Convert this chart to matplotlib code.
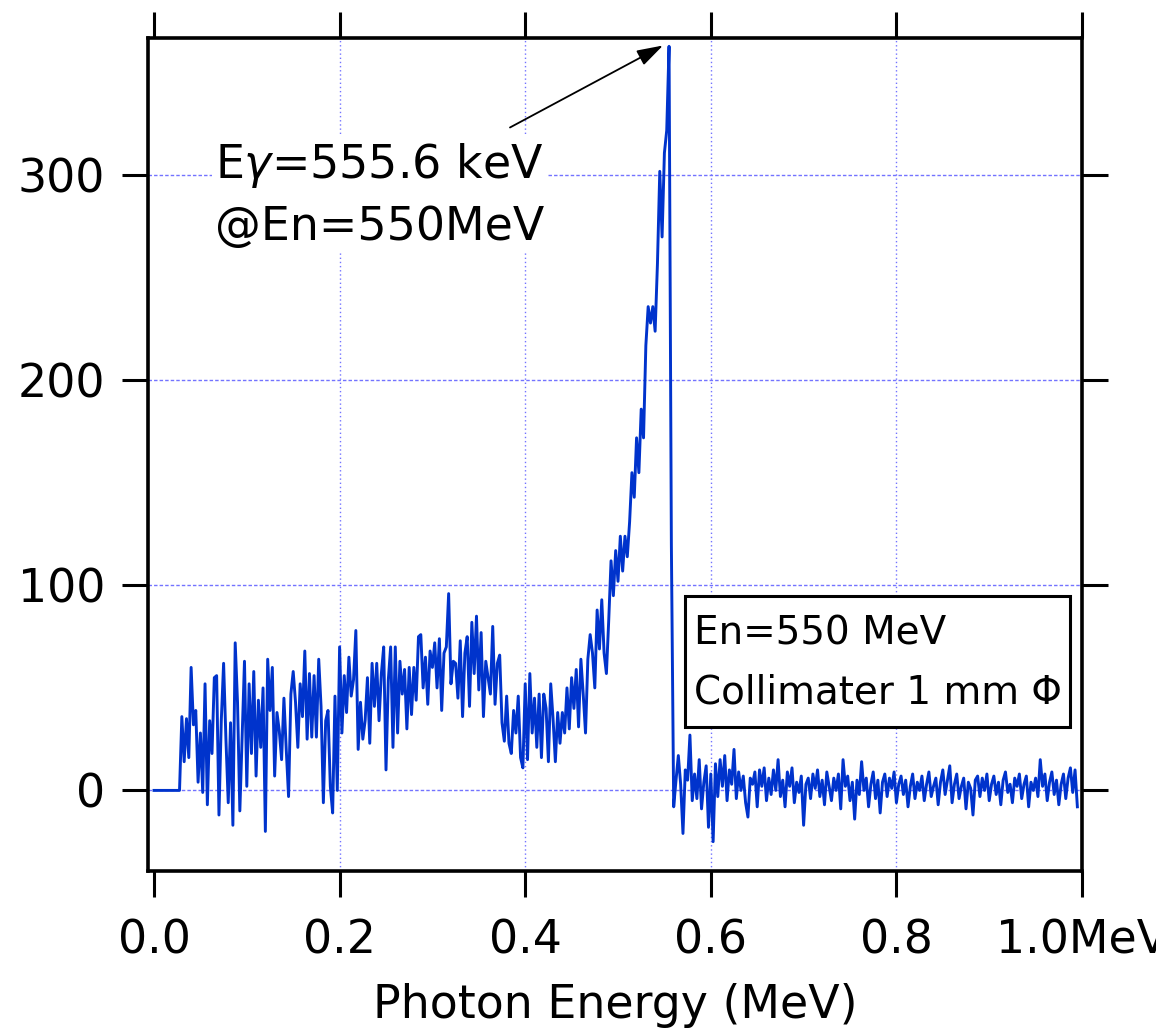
import numpy as np
import matplotlib
matplotlib.use("Agg")
import matplotlib.pyplot as plt
from matplotlib.patches import Rectangle


# spectrum, one value per 2.5 keV channel starting at 0 MeV
energy_step = 0.0025
counts = [
    0, 0, 0, 0, 0, 0, 0, 0, 0, 0, 0, 0,
    36, 14, 35, 16, 60, 32, 39, 4, 28, -1, 52, -7,
    34, 18, 55, 56, -12, 34, 62, 25, -6, 33, -17, 72,
    43, -10, 26, 63, 2, 52, 18, 58, 7, 44, 21, 50,
    -20, 64, 39, 60, 7, 38, 29, 15, 45, 20, -3, 47,
    58, 43, 21, 52, 36, 68, 25, 57, 26, 56, 26, 64,
    41, -6, 34, 39, 2, -11, 46, 0, 70,
    28, 56, 38, 65, 46, 54, 78, 20, 43, 25, 34, 55,
    23, 62, 41, 62, 34, 57, 70, 10, 54, 70, 21, 70,
    28, 63, 47, 59, 30, 60, 37, 60, 44, 75, 76, 50,
    65, 42, 68, 60, 72, 50, 74, 39, 67, 70, 96, 52,
    63, 62, 45, 73, 36, 67, 75, 41, 82, 57, 85, 49,
    77, 36, 63, 55, 47, 80, 42, 62, 66, 33, 24, 46,
    23, 18, 39, 28, 46, 16, 11, 52, 15, 57, 28,
    45, 21, 47, 16, 47, 40, 14, 52, 35, 14, 38, 23,
    38, 28, 50, 30, 55, 40, 59, 31, 64, 47, 28, 64,
    76, 67, 50, 88, 69, 93, 67, 57, 83, 112, 95, 117,
    102, 124, 107, 124, 114, 131, 155, 143, 172, 155, 186, 172,
    217, 236, 228, 236, 224, 257, 302, 270, 311, 322, 363, 120,
    -8, 5, 17, 3, -21, 10, 5, 27, -5, 8, -4, 15,
    -9, 4, 12, -18, 8, -25, 13, -3, 15, 2, 17, -5,
    10, 3, 20, -4, 9, 0, 7, -6, -13, 6, 3, 9,
    -8, 10, 2, 11, -5, 6, -2, 10, 0, 15, -3, 5,
    -8, 9, 2, 11, -6, 4, -1, 7, -17, 3, 6, -4,
    8, 1, 10, -3, 5, -7, 9, 2, -5, 6, 0, 8,
    -9, 15, 2, 7, -5, 4, -14, 5, -2, 14, 0, 6,
    -8, 3, 9, -4, 5, -11, 4, 8, -3, 6, 1, 9,
    -6, 3, 7, -2, 5, -8, 2, 8, -4, 4, 0, 7,
    -5, 3, 9, -3, 2, 6, -7, 4, 10, -2, 5, 12,
    -6, 3, 8, -4, 2, 6, -9, 4, 1, -12, 5, 7,
    -3, 6, 0, 8, -5, 3, 7, -2, 4, -7, 5, 9,
    -1, 3, -6, 6, 2, 8, -4, 3, 7, -8, 4, 0,
    6, -3, 15, 2, 8, -5, 4, 9, -2, 5, -7, 3,
    8, -4, 6, 11, -1, 10, -8,
]

x_ticks = [0.0, 0.2, 0.4, 0.6, 0.8, 1.0]
x_tick_labels = ["0.0", "0.2", "0.4", "0.6", "0.8", "1.0MeV"]
y_ticks = [0, 100, 200, 300]

peak_text = "E$\\gamma$=555.6 keV\n@En=550MeV"
box_lines = ["En=550 MeV", "Collimater 1 mm \u03a6"]

plt.rcParams["font.family"] = "DejaVu Sans"
plt.rcParams["mathtext.fontset"] = "dejavusans"

energy = np.arange(len(counts)) * energy_step

fig = plt.figure(figsize=(11.56, 10.30), dpi=100)
ax = fig.add_axes([0.128, 0.154, 0.808, 0.809])

grid_color = "#7373ff"
for x in x_ticks[1:-1]:
    ax.axvline(x, color=grid_color, lw=1, ls=(0, (1, 2)), zorder=0)
for y in y_ticks:
    ax.axhline(y, color=grid_color, lw=1, ls=(0, (2.5, 1.5)), zorder=0)

ax.plot(energy, counts, color="#0033cc", lw=2.1, zorder=2)

ax.set_xlim(-0.0065, 1.0)
ax.set_ylim(-39.5, 367)
ax.set_xticks(x_ticks)
ax.set_xticklabels(x_tick_labels)
ax.set_yticks(y_ticks)

for side in ["left", "right", "top", "bottom"]:
    ax.spines[side].set_linewidth(2.6)

ax.tick_params(axis="both", direction="out", length=19, width=2.2,
               top=True, right=True, labelsize=33)
ax.tick_params(axis="x", pad=15)
ax.tick_params(axis="y", pad=12)

ax.set_xlabel("Photon Energy (MeV)", fontsize=33, labelpad=14)

# peak label with arrow
ax.text(0.0657, 317, peak_text, fontsize=33, va="top", ha="left",
        linespacing=1.45, zorder=3,
        bbox=dict(facecolor="white", edgecolor="none", pad=2))
ax.annotate("", xy=(0.5485, 363.4), xytext=(0.3836, 323.4),
            arrowprops=dict(arrowstyle="-|>,head_length=0.8,head_width=0.25",
                            color="black", lw=1.3, mutation_scale=20,
                            shrinkA=0, shrinkB=0),
            zorder=4)

# info box
ax.add_patch(Rectangle((0.572, 30.7), 0.415, 63.9, facecolor="white",
                       edgecolor="black", lw=2.2, zorder=3))
ax.text(0.582, 71.2, box_lines[0], fontsize=28, va="baseline", zorder=4)
ax.text(0.582, 42.4, box_lines[1], fontsize=28, va="baseline", zorder=4)

fig.savefig("out.png", dpi=100)
